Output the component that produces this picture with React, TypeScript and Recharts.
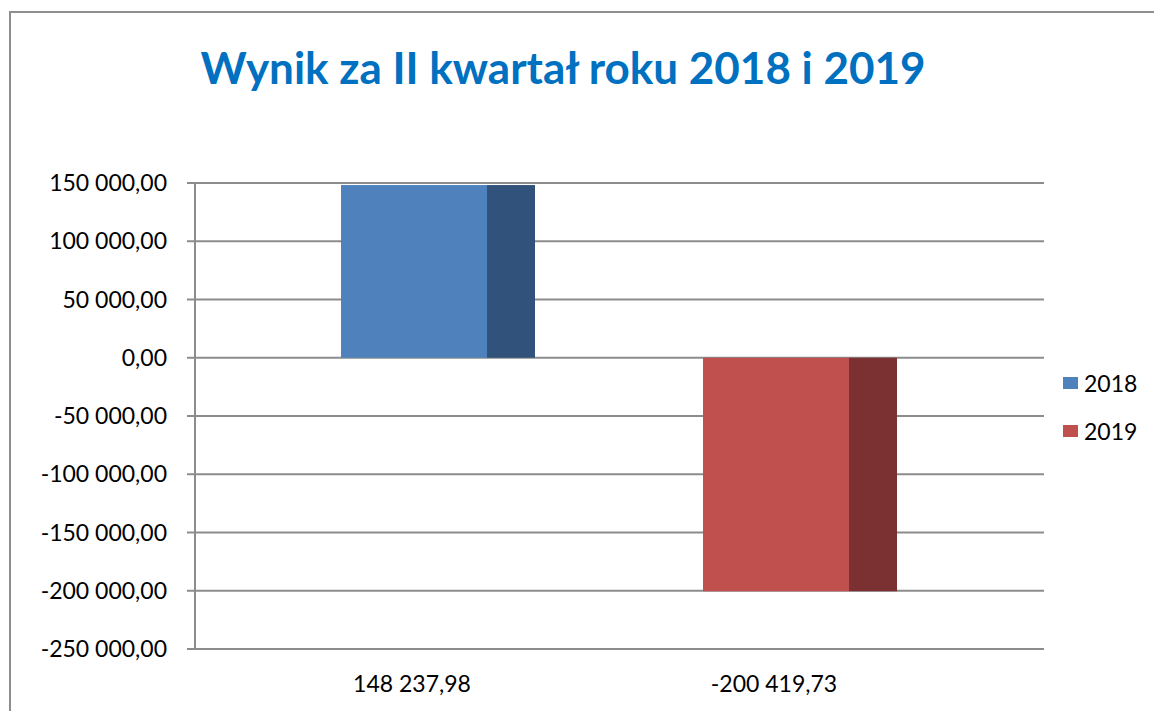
import React from 'react'
import {BarChart, Bar, CartesianGrid, Legend, XAxis, YAxis} from 'recharts'

const categories = ['148 237,98', '-200 419,73']
const values2018 = [148237.98, null]
const values2019 = [null, -200419.73]
const yTicks = [150000, 100000, 50000, 0, -50000, -100000, -150000, -200000, -250000]

const seriesInfo = [
  {key: '2018', front: '#4F81BD', side: '#31527A'},
  {key: '2019', front: '#C0504D', side: '#7B3131'},
]

const chartData = categories.map((name, i) => ({
  name,
  '2018': values2018[i],
  '2019': values2019[i],
}))

const FONT = 'Lato, "Open Sans", sans-serif'

// 150 000,00 style
const fmt = (v: number) => {
  const s = Math.abs(v).toFixed(2).split('.')
  const int = s[0].replace(/\B(?=(\d{3})+(?!\d))/g, ' ')
  return (v < 0 ? '-' : '') + int + ',' + s[1]
}

const BoxShape = (color: {front: string; side: string}) => (props: any) => {
  const {x, y, width, height} = props
  const top = Math.min(y, y + height)
  const h = Math.abs(height)
  if (!h || h < 1) return null
  const fw = Math.round(width * 0.75)
  return (
    <g>
      <rect x={x} y={top} width={fw} height={h} fill={color.front} />
      <rect x={x + fw} y={top} width={width - fw} height={h} fill={color.side} />
    </g>
  )
}

const CatTick = ({x, y, payload}: any) => (
  <text x={x - 26} y={y + 35} textAnchor="middle" fontSize={23} fontFamily={FONT} fill="#000">
    {payload.value}
  </text>
)

const LegendBox = () => (
  <div style={{paddingLeft: 19, fontFamily: FONT}}>
    {seriesInfo.map((s) => (
      <div key={s.key} style={{display: 'flex', alignItems: 'center', height: 48}}>
        <span style={{width: 15, height: 12, background: s.front, display: 'inline-block', marginRight: 6}} />
        <span style={{fontSize: 23, color: '#000'}}>{s.key}</span>
      </div>
    ))}
  </div>
)

export default function App() {
  return (
    <div style={{position: 'absolute', left: 0, top: 0, width: 1154, height: 711, overflow: 'hidden', background: '#fff'}}>
      <div style={{position: 'absolute', left: 9, top: 11, width: 1160, height: 720, borderLeft: '2px solid #8e8e8e', borderTop: '2px solid #8e8e8e'}} />
      <div style={{position: 'absolute', left: 0, top: 45, width: 1126, textAlign: 'center', fontFamily: FONT, fontWeight: 700, fontSize: 44, color: '#0070C0', lineHeight: 1}}>
        Wynik za II kwartał roku 2018 i 2019
      </div>
      <div style={{position: 'absolute', left: 0, top: 0}}>
        <BarChart width={1154} height={711} data={chartData} margin={{top: 183, right: 10, bottom: 12, left: 15}}>
          <CartesianGrid vertical={false} stroke="#8c8c8c" strokeWidth={2} />
          <XAxis dataKey="name" axisLine={false} tickLine={false} height={50} padding={{left: 62, right: 63}} tick={<CatTick />} interval={0} />
          <YAxis
            width={180}
            domain={[-250000, 150000]}
            ticks={yTicks}
            tickFormatter={fmt}
            tickSize={8}
            tickMargin={20}
            stroke="#8c8c8c"
            strokeWidth={2}
            tick={{fill: '#000', fontSize: 23, fontFamily: FONT}}
            interval={0}
          />
          <Legend layout="vertical" align="right" verticalAlign="middle" width={100} wrapperStyle={{top: 359}} content={<LegendBox />} />
          {seriesInfo.map((s) => (
            <Bar key={s.key} dataKey={s.key} stackId="a" barSize={194} fill={s.front} shape={BoxShape(s)} isAnimationActive={false} />
          ))}
        </BarChart>
      </div>
    </div>
  )
}
